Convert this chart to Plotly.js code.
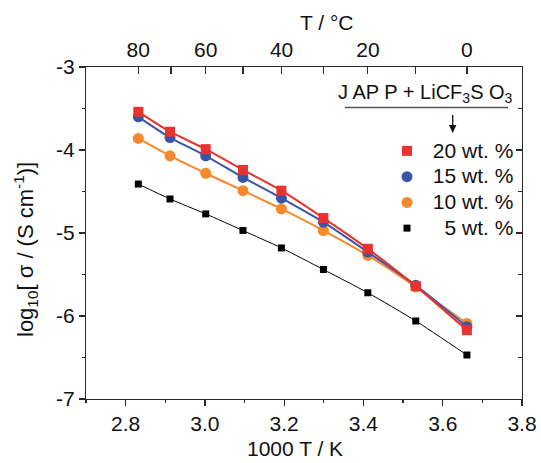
<!DOCTYPE html>
<html>
<head>
<meta charset="utf-8">
<script src="https://cdn.plot.ly/plotly-3.0.1.min.js"></script>
<style>html,body{margin:0;padding:0;background:#fff;}#chart{width:541px;height:463px;}</style>
</head>
<body>
<div id="chart"></div>
<script>
// 1000/T values (K^-1 x 1000) for 80,70,...,0 °C
const invT = [2.832, 2.912, 3.002, 3.096, 3.193, 3.299, 3.411, 3.532, 3.661];
const wt20 = [-3.54, -3.78, -3.99, -4.24, -4.49, -4.82, -5.19, -5.64, -6.17];
const wt15 = [-3.60, -3.85, -4.07, -4.33, -4.58, -4.87, -5.23, -5.63, -6.13];
const wt10 = [-3.86, -4.07, -4.28, -4.49, -4.71, -4.97, -5.27, -5.65, -6.09];
const wt5  = [-4.41, -4.59, -4.77, -4.97, -5.18, -5.44, -5.72, -6.06, -6.47];
const seriesNames = [' 20 wt. %', ' 15 wt. %', ' 10 wt. %', ' \u20075 wt. %'];
const yTickVals = [-7, -6, -5, -4, -3];
const yTickText = ['-7', '-6', '-5', '-4', '-3'];
// top axis: temperature in °C (positions 1000/(T+273.15))
const topTickVals = [2.8316, 3.0018, 3.1934, 3.4112, 3.6610];
const topTickText = ['80', '60', '40', '20', '0'];
const topMinorVals = [2.9142, 3.0960, 3.2989, 3.5317, 3.8001];

const FONT = 'Liberation Sans, Arial, sans-serif';
const AX = '#2a2a2a';

function series(y, name, color, symbol, size, lw) {
  return [
    {x: invT, y: y, mode: 'lines', line: {color: color, width: lw, shape: 'spline', smoothing: 0.6},
     showlegend: false, hoverinfo: 'skip'},
    {x: invT, y: y, mode: 'markers', name: '<span style="font-size:21px">' + name + '</span>',
     marker: {color: color, symbol: symbol, size: size, line: {width: 0}}}
  ];
}

const data = [].concat(
  series(wt5, seriesNames[3], '#000000', 'square', 7, 1),
  series(wt10, seriesNames[2], '#f5892c', 'circle', 11, 2),
  series(wt15, seriesNames[1], '#3a55a6', 'circle', 11, 2),
  series(wt20, seriesNames[0], '#e8322d', 'square', 10, 2),
  [
    // invisible carriers so the top (°C) and right axes are drawn
    {x: invT, y: wt5, xaxis: 'x2', yaxis: 'y', mode: 'markers', marker: {opacity: 0}, showlegend: false, hoverinfo: 'skip'},
    {x: invT, y: wt5, xaxis: 'x', yaxis: 'y2', mode: 'markers', marker: {opacity: 0}, showlegend: false, hoverinfo: 'skip'}
  ]
);

const L = 86, R = 522, T = 67, B = 399;
const px = v => (v - L) / (R - L);
const py = v => (B - v) / (B - T);

const layout = {
  width: 541, height: 463,
  margin: {l: L, r: 541 - R, t: T, b: 463 - B, pad: 0},
  paper_bgcolor: '#fff', plot_bgcolor: '#fff',
  font: {family: FONT, size: 21, color: '#111'},
  showlegend: true,
  legend: {x: px(387), y: py(133), xanchor: 'left', yanchor: 'top', traceorder: 'reversed',
           font: {family: FONT, size: 17.5, color: '#111'}, bgcolor: 'rgba(0,0,0,0)', tracegroupgap: 0},
  xaxis: {range: [2.7, 3.8], tick0: 2.8, dtick: 0.2, tickformat: '.1f', ticks: 'outside', ticklen: 6,
          tickwidth: 1.2, tickcolor: AX, showline: true, linecolor: AX, linewidth: 1.2, showgrid: false,
          zeroline: false, minor: {dtick: 0.1, tick0: 2.7, ticks: 'outside', ticklen: 3, tickcolor: AX, tickwidth: 1.2},
          tickfont: {size: 21}},
  xaxis2: {overlaying: 'x', side: 'top', anchor: 'y', range: [2.7, 3.8], tickmode: 'array',
           tickvals: topTickVals, ticktext: topTickText, ticks: 'inside', ticklen: 7, tickwidth: 1.2,
           tickcolor: AX, showline: true, linecolor: AX, linewidth: 1.2, showgrid: false, zeroline: false,
           minor: {tickmode: 'array', tickvals: topMinorVals, ticks: 'inside', ticklen: 7, tickcolor: AX, tickwidth: 1.2},
           tickfont: {size: 21}},
  yaxis: {range: [-7, -3], tickmode: 'array', tickvals: yTickVals, ticktext: yTickText, ticks: 'outside',
          ticklen: 6, tickwidth: 1.2, tickcolor: AX, showline: true, linecolor: AX, linewidth: 1.2,
          showgrid: false, zeroline: false,
          minor: {dtick: 0.5, tick0: -7, ticks: 'outside', ticklen: 3, tickcolor: AX, tickwidth: 1.2},
          tickfont: {size: 21}},
  yaxis2: {overlaying: 'y', side: 'right', anchor: 'x', range: [-7, -3], dtick: 1, tick0: -7, ticks: 'inside',
           ticklen: 6, tickwidth: 1.2, tickcolor: AX, showline: true, linecolor: AX, linewidth: 1.2,
           showticklabels: false, showgrid: false, zeroline: false,
           minor: {dtick: 0.5, tick0: -7, ticks: 'inside', ticklen: 4, tickcolor: AX, tickwidth: 1.2}},
  shapes: [
    {type: 'line', xref: 'paper', yref: 'paper', x0: px(345), x1: px(508), y0: py(107.5), y1: py(107.5),
     line: {color: '#555', width: 1.5}},
    {type: 'line', xref: 'paper', yref: 'paper', x0: px(452.7), x1: px(452.7), y0: py(115), y1: py(127),
     line: {color: '#111', width: 1.3}},
    {type: 'path', xref: 'paper', yref: 'paper', fillcolor: '#111', line: {width: 0},
     path: 'M' + px(449) + ',' + py(125) + ' L' + px(456.4) + ',' + py(125) + ' L' + px(452.7) + ',' + py(133) + ' Z'}
  ],
  annotations: [
    {text: 'log<sub>10</sub>[ σ / (S cm<sup>-1</sup>)]', xref: 'paper', yref: 'paper', x: px(25), y: py(250),
     textangle: -90, showarrow: false, font: {size: 22}, xanchor: 'center', yanchor: 'middle'},
    {text: '1000 T / K', xref: 'paper', yref: 'paper', x: px(295), y: py(448), showarrow: false,
     font: {size: 21}, xanchor: 'center', yanchor: 'middle'},
    {text: 'T / °C', xref: 'paper', yref: 'paper', x: px(327), y: py(22), showarrow: false,
     font: {size: 21}, xanchor: 'center', yanchor: 'middle'},
    {text: 'J AP P + LiCF<sub>3</sub>S O<sub>3</sub>', xref: 'paper', yref: 'paper', x: px(425), y: py(93),
     showarrow: false, font: {size: 20}, xanchor: 'center', yanchor: 'middle'}
  ]
};

Plotly.newPlot('chart', data, layout, {displayModeBar: false, staticPlot: true});
</script>
</body>
</html>
